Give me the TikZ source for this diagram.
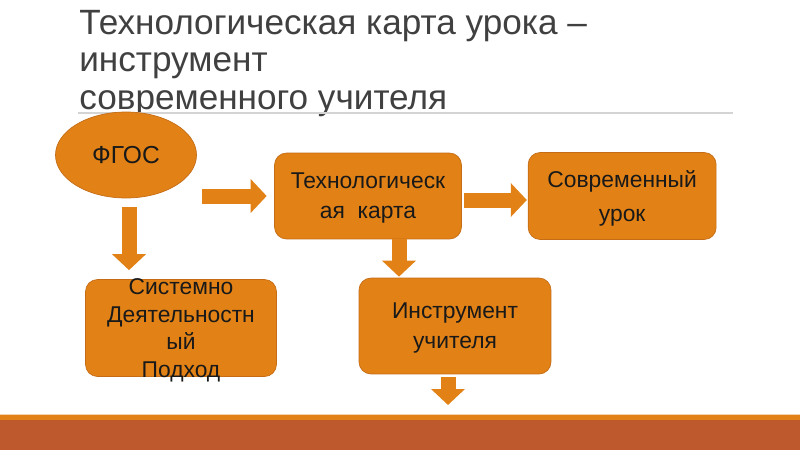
\documentclass[tikz,border=0pt]{standalone}
\usepackage{fontspec}
\setmainfont{Liberation Sans}
\usepackage{tikz}
\usetikzlibrary{shapes.geometric,arrows.meta,positioning}
\definecolor{boxorange}{RGB}{226,130,22}
\definecolor{boxedge}{RGB}{196,108,22}
\definecolor{bandbrown}{RGB}{190,89,45}
\definecolor{titlegray}{RGB}{64,64,64}
\definecolor{rulegray}{RGB}{212,212,212}

\begin{document}
\begin{tikzpicture}[x=0.02cm,y=-0.02cm,node distance=1.32cm]
  \tikzstyle{blk}=[rectangle,rounded corners=0.24cm,draw=boxedge,fill=boxorange,thin,align=center,text=black!90,text depth=0pt,font=\fontsize{13}{17}\selectfont]
  \tikzstyle{fat}=[boxorange,line width=0.3cm,-{Triangle[width=0.66cm,length=0.32cm]}]
  \useasboundingbox (0,0) rectangle (800,450);

  % title
  \node[anchor=north west,align=left,inner sep=0,text=titlegray,font=\fontsize{20}{21.3}\selectfont] (title) at (79,10) {Технологическая карта урока –\\инструмент\\современного учителя};
  \draw[rulegray,line width=1.2pt] (78,113) -- (733,113);

  \node[ellipse,draw=boxedge,fill=boxorange,thin,minimum width=2.82cm,minimum height=1.72cm,text=black!90,font=\fontsize{14}{17}\selectfont] (fgos) at (126,155) {ФГОС};
  \node[blk,minimum width=3.74cm,minimum height=1.72cm] (karta) at (368,196) {Технологическ\\ая~~карта};
  \node[blk,minimum width=3.76cm,minimum height=1.74cm,right=of karta] (urok) {Современный\\[2pt]урок};
  \node[blk,minimum width=3.84cm,minimum height=1.92cm] (instr) at (455,326) {Инструмент\\учителя};
  \node[blk,minimum width=3.82cm,minimum height=1.94cm,inner ysep=-0.15cm,font=\fontsize{13}{15.6}\selectfont] (sys) at (181,328) {Системно\\Деятельностн\\ый\\Подход};
  \coordinate (below) at (448,405);

  \draw[fat,shorten <=0.11cm,shorten >=0.15cm] (fgos.east |- karta.west) -- (karta.west);
  \draw[fat,shorten <=0.18cm,shorten >=0.18cm] ([xshift=0.06cm]fgos.south) -- ([xshift=0.06cm]fgos.south |- sys.north);
  \draw[fat,shorten <=0.04cm,shorten >=0.02cm] ([yshift=-0.08cm]karta.east) -- ([yshift=-0.08cm]urok.west);
  \draw[fat,shorten >=0.02cm] ([xshift=0.62cm]karta.south) -- ([xshift=0.62cm]karta.south |- instr.north);
  \draw[fat,shorten <=0.06cm] (instr.south -| below) -- (below);

  % bottom band
  \fill[boxorange!35] (0,414) rectangle (800,415);
  \fill[boxorange] (0,415) rectangle (800,420);
  \fill[bandbrown] (0,420) rectangle (800,450);
\end{tikzpicture}
\end{document}
